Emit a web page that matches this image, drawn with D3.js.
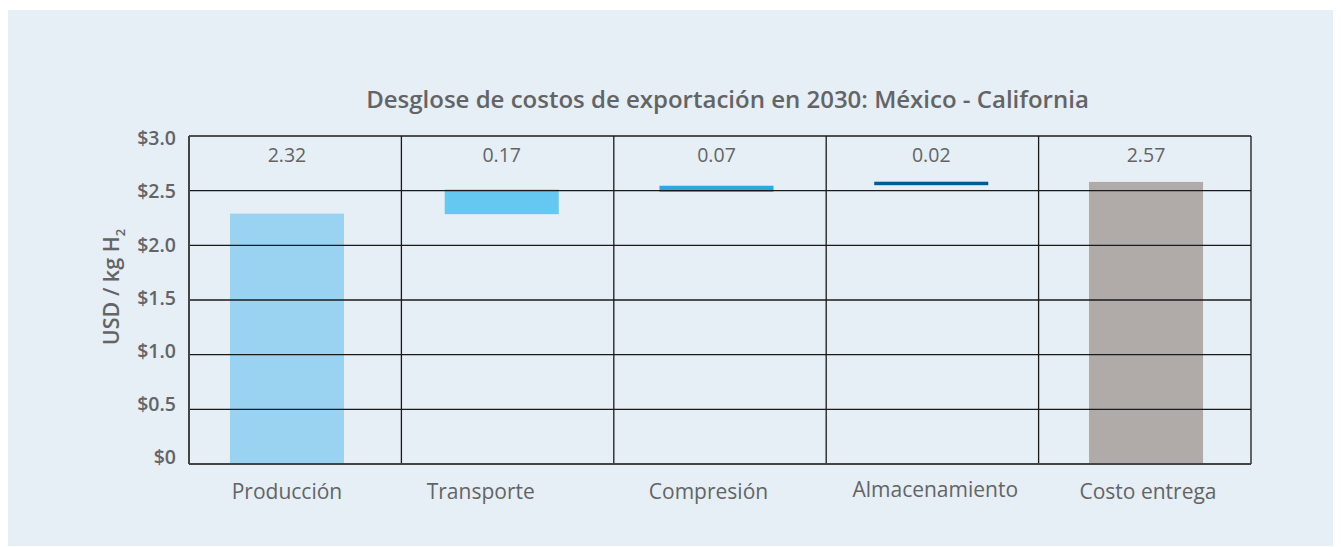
<!DOCTYPE html>
<html>
<head>
<meta charset="utf-8">
<script src="https://cdn.jsdelivr.net/npm/d3@7"></script>
<style>
  body { margin: 0; background: #fff; }
  text { font-family: "Open Sans", sans-serif; }
</style>
</head>
<body>
<svg width="1341" height="547"></svg>
<script>
var categories = ["Producción", "Transporte", "Compresión", "Almacenamiento", "Costo entrega"];
var labels = ["2.32", "0.17", "0.07", "0.02", "2.57"];
// bar extents as drawn in the picture (waterfall)
var barStart = [0, 2.285, 2.49, 2.55, 0];
var barEnd = [2.29, 2.51, 2.545, 2.582, 2.58];
var colors = ["#9ad3f1", "#64c8f0", "#29a9e0", "#005b9a", "#b0aba8"];
var yTicks = [0, 0.5, 1.0, 1.5, 2.0, 2.5, 3.0];
var yTickLabels = ["$0", "$0.5", "$1.0", "$1.5", "$2.0", "$2.5", "$3.0"];

// nudges for the category names, as placed in the original
var catShift = [0, -21, -8, 4, 2];

var svg = d3.select("svg");

svg.append("rect")
  .attr("x", 8).attr("y", 10)
  .attr("width", 1325).attr("height", 536)
  .attr("fill", "#e6eef6");

var margin = {top: 136, left: 189},
    width = 1062,
    height = 328,
    g = svg.append("g").attr("transform", "translate(" + margin.left + "," + margin.top + ")");

// grid cells
var x = d3.scaleBand()
  .domain(categories)
  .range([0, width]);

// bars sit on a slightly wider spacing than the grid cells
var xBar = d3.scaleBand()
  .domain(categories)
  .range([-9.4, 1064.4])
  .paddingInner(0.469)
  .paddingOuter(0.2345);

var y = d3.scaleLinear()
  .domain([0, 3])
  .range([height, 0]);

// tick labels are spaced a little tighter than the grid
var yLab = d3.scaleLinear()
  .domain([0, 3])
  .range([321, 2.3]);

function mid(d) { return xBar(d) + xBar.bandwidth() / 2; }

g.selectAll(".bar")
  .data(categories)
  .enter().append("rect")
  .attr("x", function(d) { return xBar(d); })
  .attr("y", function(d, i) { return y(barEnd[i]); })
  .attr("width", xBar.bandwidth())
  .attr("height", function(d, i) { return y(barStart[i]) - y(barEnd[i]); })
  .attr("fill", function(d, i) { return colors[i]; });

// horizontal grid
g.selectAll(".hgrid")
  .data(yTicks.slice(1))
  .enter().append("line")
  .attr("x1", 0).attr("x2", width)
  .attr("y1", function(d) { return y(d); })
  .attr("y2", function(d) { return y(d); })
  .attr("stroke", "#1a1a1a")
  .attr("stroke-width", 1.3);

// vertical separators
var bounds = categories.map(function(d) { return x(d); }).concat([width]);
g.selectAll(".vgrid")
  .data(bounds)
  .enter().append("line")
  .attr("x1", function(d) { return d; })
  .attr("x2", function(d) { return d; })
  .attr("y1", 0).attr("y2", height)
  .attr("stroke", function(d, i) { return i === 0 ? "#444" : "#1a1a1a"; })
  .attr("stroke-width", function(d, i) { return i === 0 ? 2 : 1.3; });

// baseline
g.append("line")
  .attr("x1", 0).attr("x2", width)
  .attr("y1", y(0)).attr("y2", y(0))
  .attr("stroke", "#444")
  .attr("stroke-width", 2);

// y tick labels
g.selectAll(".ytick")
  .data(yTicks)
  .enter().append("text")
  .attr("x", -13)
  .attr("y", function(d) { return yLab(d); })
  .attr("dy", "0.36em")
  .attr("text-anchor", "end")
  .attr("fill", "#636466")
  .attr("font-size", 19.5)
  .attr("font-weight", 600)
  .text(function(d, i) { return yTickLabels[i]; });

// value labels
g.selectAll(".val")
  .data(categories)
  .enter().append("text")
  .attr("x", mid)
  .attr("y", 26)
  .attr("text-anchor", "middle")
  .attr("fill", "#636466")
  .attr("font-size", 19.5)
  .attr("font-weight", 500)
  .text(function(d, i) { return labels[i]; });

// category labels
g.selectAll(".cat")
  .data(categories)
  .enter().append("text")
  .attr("x", function(d, i) { return mid(d) + catShift[i]; })
  .attr("y", function(d) { return d === "Almacenamiento" ? height + 33 : height + 35; })
  .attr("text-anchor", "middle")
  .attr("fill", "#636466")
  .attr("font-size", 21)
  .text(function(d) { return d; });

// title
svg.append("text")
  .attr("x", 727.5)
  .attr("y", 108)
  .attr("text-anchor", "middle")
  .attr("fill", "#636466")
  .attr("font-size", 24)
  .attr("font-weight", 600)
  .text("Desglose de costos de exportación en 2030: México - California");

// y axis title
var yt = svg.append("text")
  .attr("transform", "translate(119,287) rotate(-90)")
  .attr("text-anchor", "middle")
  .attr("fill", "#636466")
  .attr("font-size", 21.5)
  .attr("font-weight", 600);
yt.append("tspan").text("USD / kg H");
yt.append("tspan").attr("font-size", 13).attr("dy", 6).text("2");
</script>
</body>
</html>
